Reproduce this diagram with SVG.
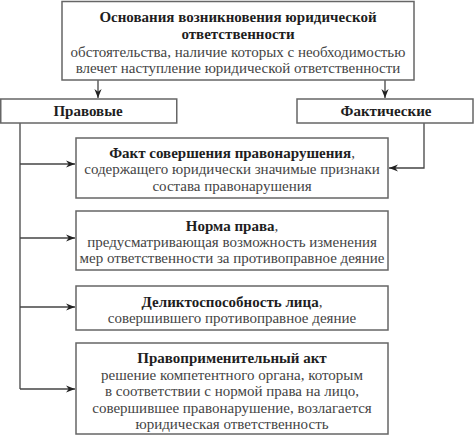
<svg xmlns="http://www.w3.org/2000/svg" width="474" height="436" viewBox="0 0 474 436">
<defs>
<style>
.box{fill:#fff;stroke:#666;stroke-width:1.5}
.c{fill:none;stroke:#444;stroke-width:1.3}
</style>
<marker id="ah" viewBox="0 0 10 10" refX="10" refY="5" markerWidth="9" markerHeight="9" markerUnits="userSpaceOnUse" orient="auto">
<path d="M0,1 L10,5 L0,9 L3,5 Z" fill="#222"/>
</marker>
</defs>
<rect width="474" height="436" fill="#fff"/>
<g id="connectors">
<line class="c" x1="98" y1="80" x2="98" y2="98" marker-end="url(#ah)"/>
<line class="c" x1="385" y1="80" x2="385" y2="98" marker-end="url(#ah)"/>
<polyline class="c" points="20,123 20,389"/>
<line class="c" x1="20" y1="164" x2="75" y2="164" marker-end="url(#ah)"/>
<line class="c" x1="20" y1="238" x2="75" y2="238" marker-end="url(#ah)"/>
<line class="c" x1="20" y1="307" x2="75" y2="307" marker-end="url(#ah)"/>
<line class="c" x1="20" y1="389" x2="75" y2="389" marker-end="url(#ah)"/>
<polyline class="c" points="424,123 424,168 389,168" marker-end="url(#ah)"/>
</g>
<g id="top">
<rect class="box" x="62" y="1.5" width="352" height="78.5"/>
<text x="238" y="22" font-family="Liberation Serif, Times New Roman, serif" font-size="15" font-weight="bold" fill="#1e1e1e" text-anchor="middle">Основания возникновения юридической</text>
<text x="238" y="39" font-family="Liberation Serif, Times New Roman, serif" font-size="15" font-weight="bold" fill="#1e1e1e" text-anchor="middle">ответственности</text>
<text x="238" y="57" font-family="Liberation Serif, Times New Roman, serif" font-size="15" fill="#444" text-anchor="middle">обстоятельства, наличие которых с необходимостью</text>
<text x="238" y="73" font-family="Liberation Serif, Times New Roman, serif" font-size="15" fill="#444" text-anchor="middle">влечет наступление юридической ответственности</text>
</g>
<g id="pravovye">
<rect class="box" x="0.75" y="99" width="176" height="24"/>
<text x="88" y="116" font-family="Liberation Serif, Times New Roman, serif" font-size="15" font-weight="bold" fill="#1e1e1e" text-anchor="middle">Правовые</text>
</g>
<g id="fakticheskie">
<rect class="box" x="297" y="99" width="176" height="24"/>
<text x="386" y="116" font-family="Liberation Serif, Times New Roman, serif" font-size="15" font-weight="bold" fill="#1e1e1e" text-anchor="middle">Фактические</text>
</g>
<g id="fakt">
<rect class="box" x="76" y="138" width="312" height="60"/>
<text x="232" y="158" font-family="Liberation Serif, Times New Roman, serif" font-size="15" fill="#444" text-anchor="middle"><tspan font-weight="bold" fill="#1e1e1e">Факт совершения правонарушения</tspan>,</text>
<text x="232" y="174" font-family="Liberation Serif, Times New Roman, serif" font-size="15" fill="#444" text-anchor="middle">содержащего юридически значимые признаки</text>
<text x="232" y="191" font-family="Liberation Serif, Times New Roman, serif" font-size="15" fill="#444" text-anchor="middle">состава правонарушения</text>
</g>
<g id="norma">
<rect class="box" x="76" y="211" width="312" height="59"/>
<text x="232" y="231" font-family="Liberation Serif, Times New Roman, serif" font-size="15" fill="#444" text-anchor="middle"><tspan font-weight="bold" fill="#1e1e1e">Норма права</tspan>,</text>
<text x="232" y="247" font-family="Liberation Serif, Times New Roman, serif" font-size="15" fill="#444" text-anchor="middle">предусматривающая возможность изменения</text>
<text x="232" y="263" font-family="Liberation Serif, Times New Roman, serif" font-size="15" fill="#444" text-anchor="middle">мер ответственности за противоправное деяние</text>
</g>
<g id="delikt">
<rect class="box" x="76" y="286" width="312" height="44"/>
<text x="232" y="307" font-family="Liberation Serif, Times New Roman, serif" font-size="15" fill="#444" text-anchor="middle"><tspan font-weight="bold" fill="#1e1e1e">Деликтоспособность лица</tspan>,</text>
<text x="232" y="323" font-family="Liberation Serif, Times New Roman, serif" font-size="15" fill="#444" text-anchor="middle">совершившего противоправное деяние</text>
</g>
<g id="akt">
<rect class="box" x="76" y="343" width="312" height="91"/>
<text x="232" y="363" font-family="Liberation Serif, Times New Roman, serif" font-size="15" font-weight="bold" fill="#1e1e1e" text-anchor="middle">Правоприменительный акт</text>
<text x="232" y="380" font-family="Liberation Serif, Times New Roman, serif" font-size="15" fill="#444" text-anchor="middle">решение компетентного органа, которым</text>
<text x="232" y="396" font-family="Liberation Serif, Times New Roman, serif" font-size="15" fill="#444" text-anchor="middle">в соответствии с нормой права на лицо,</text>
<text x="232" y="413" font-family="Liberation Serif, Times New Roman, serif" font-size="15" fill="#444" text-anchor="middle">совершившее правонарушение, возлагается</text>
<text x="232" y="429" font-family="Liberation Serif, Times New Roman, serif" font-size="15" fill="#444" text-anchor="middle">юридическая ответственность</text>
</g>
</svg>
